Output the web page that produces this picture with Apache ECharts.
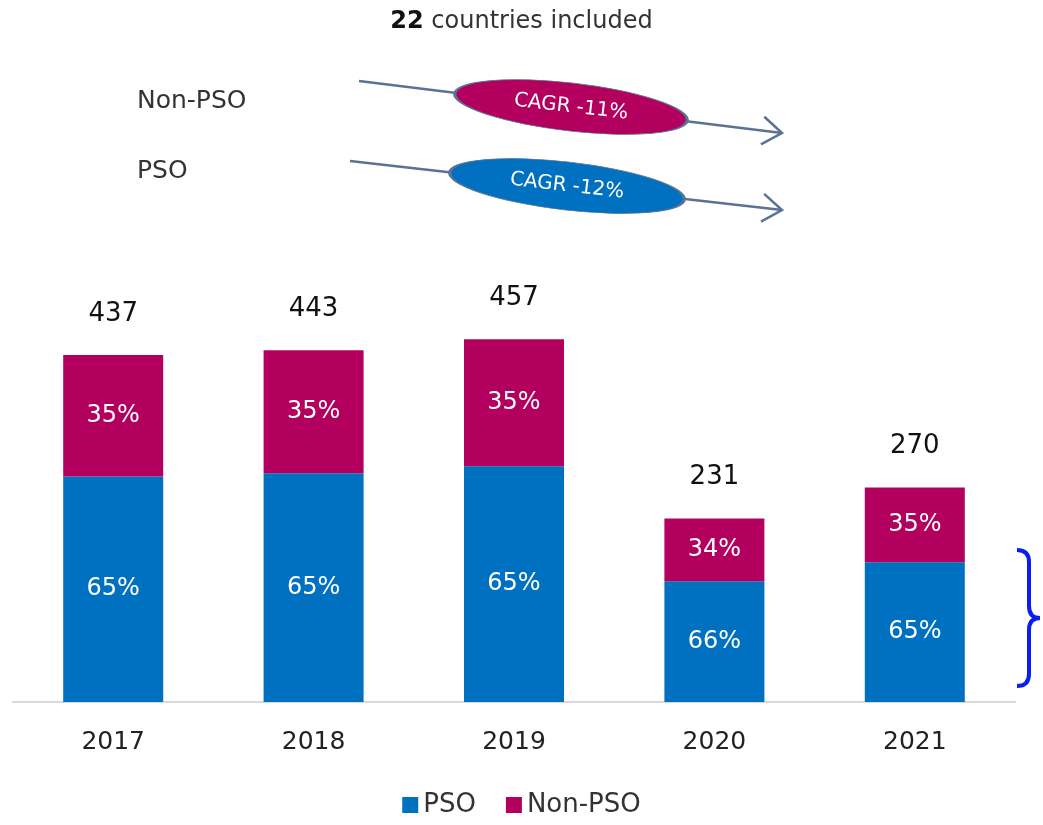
<!DOCTYPE html>
<html>
<head>
<meta charset="utf-8">
<script src="https://cdn.jsdelivr.net/npm/echarts@6/dist/echarts.min.js"></script>
<style>html,body{margin:0;padding:0;background:#fff}#c{width:1043px;height:825px}</style>
</head>
<body>
<div id="c"></div>
<script>
const categories = ['2017', '2018', '2019', '2020', '2021'];
const psoValues = [284, 288, 297, 152, 176];
const nonPsoValues = [153, 155, 160, 79, 94];
const totals = [437, 443, 457, 231, 270];
const psoPct = ['65%', '65%', '65%', '66%', '65%'];
const nonPsoPct = ['35%', '35%', '35%', '34%', '35%'];

const FONT = '"DejaVu Sans", "Noto Sans", sans-serif';
const BLUE = '#0070C0';
const MAG = '#B3005E';
const ARROW = '#5A7394';
const BRACE = '#0A1EF0';

const chart = echarts.init(document.getElementById('c'), null, {renderer: 'canvas'});

function arrow(x1, y1, x2, y2) {
  const a = Math.atan2(y2 - y1, x2 - x1);
  const L = 24, s = 0.62;
  return [
    {type: 'line', shape: {x1, y1, x2, y2}, style: {stroke: ARROW, lineWidth: 2.5}},
    {type: 'polyline', shape: {points: [
      [x2 - L * Math.cos(a - s), y2 - L * Math.sin(a - s)],
      [x2, y2],
      [x2 - L * Math.cos(a + s), y2 - L * Math.sin(a + s)]
    ]}, style: {stroke: ARROW, lineWidth: 2.5, fill: null}}
  ];
}
function ellipse(cx, cy, rx, ry, rot, color, text) {
  return [
    {type: 'circle', x: cx, y: cy, scaleX: rx / ry, rotation: rot,
     shape: {cx: 0, cy: 0, r: ry},
     style: {fill: color, stroke: ARROW, lineWidth: 1.5, strokeNoScale: true}},
    {type: 'text', x: cx, y: cy, rotation: rot,
     style: {text: text, fill: '#fff', font: '20px ' + FONT, textAlign: 'center', textVerticalAlign: 'middle'}}
  ];
}
function bz(x1, y1, cx, cy, x2, y2) {
  return {type: 'bezierCurve', shape: {x1, y1, cpx1: cx, cpy1: cy, x2, y2},
          style: {stroke: BRACE, lineWidth: 4, fill: null}};
}
function ln(x1, y1, x2, y2) {
  return {type: 'line', shape: {x1, y1, x2, y2}, style: {stroke: BRACE, lineWidth: 4}};
}

const graphics = [].concat(
  [
    {type: 'text', x: 137, y: 101, style: {text: 'Non-PSO', fill: '#333', font: '25px ' + FONT, textVerticalAlign: 'middle'}},
    {type: 'text', x: 137, y: 171, style: {text: 'PSO', fill: '#333', font: '25px ' + FONT, textVerticalAlign: 'middle'}}
  ],
  arrow(359, 81, 782, 133),
  arrow(350, 161, 782, 210),
  ellipse(571, 107, 117, 24, -0.115, MAG, 'CAGR -11%'),
  ellipse(567, 186, 118, 24, -0.115, BLUE, 'CAGR -12%'),
  [
    bz(1017, 550, 1029, 550, 1029, 562),
    ln(1029, 562, 1029, 606),
    bz(1029, 606, 1029, 618, 1040, 618),
    bz(1040, 618, 1029, 618, 1029, 630),
    ln(1029, 630, 1029, 674),
    bz(1029, 674, 1029, 686, 1017, 686)
  ]
);

chart.setOption({
  animation: false,
  textStyle: {fontFamily: FONT},
  title: {
    text: '{b|22} countries included',
    left: 'center', top: 5,
    textStyle: {
      fontSize: 24, fontWeight: 'normal', color: '#333', fontFamily: FONT,
      rich: {b: {fontSize: 24, fontWeight: 'bold', color: '#111', fontFamily: FONT}}
    }
  },
  legend: {
    data: ['PSO', 'Non-PSO'],
    bottom: 2, left: 'center',
    icon: 'rect', itemWidth: 16, itemHeight: 16, itemGap: 30,
    textStyle: {fontSize: 26, color: '#333', fontFamily: FONT}
  },
  grid: {left: 13, right: 28, top: 305, bottom: 123},
  xAxis: {
    type: 'category', data: categories,
    axisLine: {lineStyle: {color: '#d9d9d9', width: 2}},
    axisTick: {show: false},
    axisLabel: {fontSize: 25, color: '#222', margin: 28, fontFamily: FONT}
  },
  yAxis: {type: 'value', min: 0, max: 500, show: false, splitLine: {show: false}},
  series: [
    {
      name: 'PSO', type: 'bar', stack: 't', data: psoValues, barWidth: 100,
      itemStyle: {color: BLUE},
      label: {show: true, position: 'inside', color: '#fff', fontSize: 24, fontFamily: FONT,
              formatter: p => psoPct[p.dataIndex]}
    },
    {
      name: 'Non-PSO', type: 'bar', stack: 't', data: nonPsoValues, barWidth: 100,
      itemStyle: {color: MAG},
      label: {show: true, position: 'inside', color: '#fff', fontSize: 24, fontFamily: FONT,
              formatter: p => nonPsoPct[p.dataIndex]}
    },
    {
      name: 'Total', type: 'scatter', data: totals, symbolSize: 0, silent: true,
      itemStyle: {opacity: 1},
      label: {show: true, position: 'top', distance: 28, color: '#111', fontSize: 26, fontFamily: FONT,
              formatter: p => String(totals[p.dataIndex])}
    }
  ],
  graphic: graphics
});
</script>
</body>
</html>
